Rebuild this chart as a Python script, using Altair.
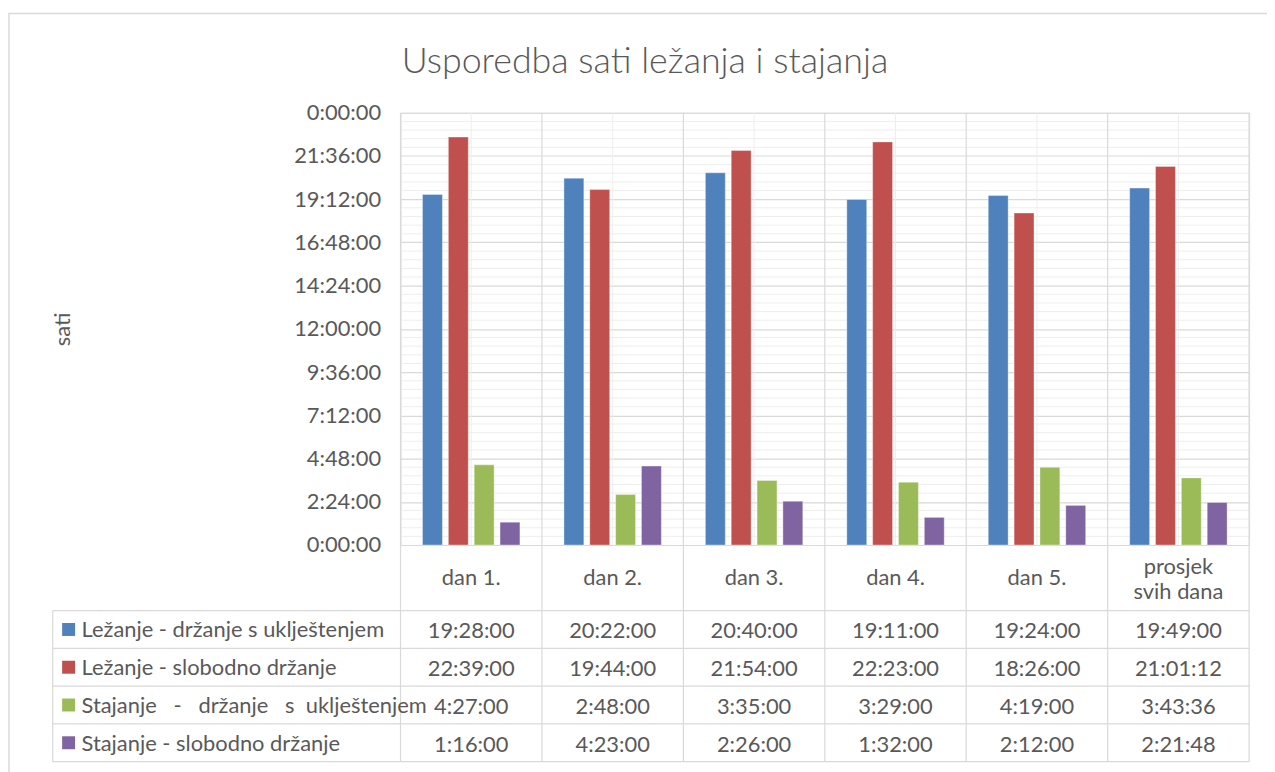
import altair as alt
import pandas as pd

# ---------------- data ----------------
categories = ["dan 1.", "dan 2.", "dan 3.", "dan 4.", "dan 5.", "prosjek\nsvih dana"]
series = [
    "Ležanje - držanje s uklještenjem",
    "Ležanje - slobodno držanje",
    "Stajanje - držanje s uklještenjem",
    "Stajanje - slobodno držanje",
]
NB = "\u00a0"
series_labels = [
    "Ležanje - držanje s uklještenjem",
    "Ležanje - slobodno držanje",
    f"Stajanje{NB}{NB}{NB}-{NB}{NB}{NB}držanje{NB}{NB}{NB}s{NB}{NB}uklještenjem",
    "Stajanje - slobodno držanje",
]
colors = ["#4f81bd", "#c0504d", "#9bbb59", "#8064a2"]

lezanje_ukljestenje = ["19:28:00", "20:22:00", "20:40:00", "19:11:00", "19:24:00", "19:49:00"]
lezanje_slobodno = ["22:39:00", "19:44:00", "21:54:00", "22:23:00", "18:26:00", "21:01:12"]
stajanje_ukljestenje = ["4:27:00", "2:48:00", "3:35:00", "3:29:00", "4:19:00", "3:43:36"]
stajanje_slobodno = ["1:16:00", "4:23:00", "2:26:00", "1:32:00", "2:12:00", "2:21:48"]
values_by_series = [lezanje_ukljestenje, lezanje_slobodno, stajanje_ukljestenje, stajanje_slobodno]

y_ticks = [0, 2.4, 4.8, 7.2, 9.6, 12, 14.4, 16.8, 19.2, 21.6, 24]
y_minor = [i * 0.48 for i in range(51) if i % 5 != 0]

title_text = "Usporedba sati ležanja i stajanja"
y_title = "sati"


def to_hours(s):
    h, m, sec = (int(p) for p in s.split(":"))
    return h + m / 60 + sec / 3600


rows = []
for name, vals in zip(series, values_by_series):
    for cat, v in zip(categories, vals):
        rows.append({"dan": cat, "serija": name, "sati": to_hours(v), "tekst": v})
df = pd.DataFrame(rows)
df_series = pd.DataFrame({"serija": series, "oznaka": series_labels})
df_cats = pd.DataFrame({"dan": categories})
df_last_cat = pd.DataFrame({"dan": categories[-1:]})
df_last_series = pd.DataFrame({"serija": series[-1:]})
df_minor = pd.DataFrame({"sati": y_minor})
df_one = pd.DataFrame({"k": [0]})
df_title = pd.DataFrame({"naslov": [title_text]})

# ---------------- layout / style ----------------
W, H = 854, 435
TABLE_TOP, TABLE_BOTTOM = 501, 653
TABLE_LEFT = -350
FONT = "Lato"
TXT = "#595959"
GRID = "#d9d9d9"
GRID_MINOR = "#eeeeee"
FS = 22
FS_TABLE = 22

x_scale = alt.Scale(domain=categories, paddingInner=0, paddingOuter=0)
X = alt.X("dan:N", scale=x_scale, axis=None, sort=categories)

y_scale = alt.Scale(domain=[0, 24], nice=False, zero=True)
row_scale = alt.Scale(domain=series, range=[TABLE_TOP, TABLE_BOTTOM], paddingInner=0, paddingOuter=0)
color_scale = alt.Scale(domain=series, range=colors)

# outer frame
frame = alt.Chart(df_one).mark_rect(fill="transparent", stroke=GRID, strokeWidth=1.5).encode(
    x=alt.value(-394), x2=alt.value(1000), y=alt.value(-100), y2=alt.value(800)
)

# title
title = alt.Chart(df_title).mark_text(
    font=FONT, fontSize=36, fontWeight=300, color=TXT, align="center", baseline="middle"
).encode(x=alt.value(246), y=alt.value(-51), text="naslov:N")

# minor horizontal gridlines
minor_h = alt.Chart(df_minor).mark_rule(color=GRID_MINOR, strokeWidth=1).encode(
    y=alt.Y("sati:Q", scale=y_scale, axis=None)
)

# vertical lines at category boundaries (through the table)
v_major = alt.Chart(df_cats).mark_rule(color=GRID, strokeWidth=1.2).encode(
    x=alt.X("dan:N", scale=x_scale, axis=None, sort=categories, bandPosition=0),
    y=alt.value(0), y2=alt.value(TABLE_BOTTOM),
)
v_right = alt.Chart(df_last_cat).mark_rule(color=GRID, strokeWidth=1.2).encode(
    x=alt.X("dan:N", scale=x_scale, axis=None, sort=categories, bandPosition=1),
    y=alt.value(0), y2=alt.value(TABLE_BOTTOM),
)
v_minor = alt.Chart(df_cats).mark_rule(color=GRID_MINOR, strokeWidth=1).encode(
    x=alt.X("dan:N", scale=x_scale, axis=None, sort=categories, bandPosition=0.5),
    y=alt.value(0), y2=alt.value(H),
)

# bars
bars = alt.Chart(df).mark_bar(stroke="white", strokeWidth=0.6, strokeOpacity=0.6).encode(
    x=X,
    xOffset=alt.XOffset("serija:N", sort=series,
                        scale=alt.Scale(domain=series, paddingInner=0.23, paddingOuter=0.852)),
    y=alt.Y(
        "sati:Q", scale=y_scale,
        axis=alt.Axis(
            values=y_ticks, grid=True, gridColor=GRID, gridWidth=1.2,
            domain=False, ticks=False, labelPadding=20,
            labelFont=FONT, labelFontSize=FS, labelColor=TXT,
            labelExpr="floor(round(datum.value*60)/60) % 24 + ':' + "
                      "(round(datum.value*60) % 60 < 10 ? '0' : '') + "
                      "(round(datum.value*60) % 60) + ':00'",
            title=y_title, titleFont=FONT, titleFontSize=FS, titleFontWeight="normal",
            titleColor=TXT, titleX=-340, titleY=H / 2, titleAngle=270,
            titleBaseline="middle", titleAlign="center",
        ),
    ),
    color=alt.Color("serija:N", scale=color_scale, legend=None),
)

# category header row (single- and two-line labels, each block centred in the row)
hdr_single = alt.Chart(df_cats).transform_filter(
    "indexof(datum.dan, '\\n') < 0"
).mark_text(font=FONT, fontSize=FS_TABLE, color=TXT, baseline="middle").encode(
    x=X, y=alt.value(H + 33), text="dan:N"
)
hdr_multi = alt.Chart(df_cats).transform_filter(
    "indexof(datum.dan, '\\n') >= 0"
).transform_calculate(
    linije="split(datum.dan, '\\n')"
).mark_text(font=FONT, fontSize=FS_TABLE, color=TXT, baseline="middle", lineHeight=25, dy=-11).encode(
    x=X, y=alt.value(H + 33), text="linije:N"
)

# table horizontal lines
t_h = alt.Chart(df_series).mark_rule(color=GRID, strokeWidth=1.2).encode(
    y=alt.Y("serija:N", scale=row_scale, axis=None, sort=series, bandPosition=0),
    x=alt.value(TABLE_LEFT), x2=alt.value(W),
)
t_h_bottom = alt.Chart(df_last_series).mark_rule(color=GRID, strokeWidth=1.2).encode(
    y=alt.Y("serija:N", scale=row_scale, axis=None, sort=series, bandPosition=1),
    x=alt.value(TABLE_LEFT), x2=alt.value(W),
)
t_left = alt.Chart(df_one).mark_rule(color=GRID, strokeWidth=1.2).encode(
    x=alt.value(TABLE_LEFT), y=alt.value(TABLE_TOP), y2=alt.value(TABLE_BOTTOM)
)

# table values
t_text = alt.Chart(df).mark_text(font=FONT, fontSize=FS_TABLE, color=TXT, baseline="middle", dy=2).encode(
    x=X,
    y=alt.Y("serija:N", scale=row_scale, axis=None, sort=series),
    text="tekst:N",
)

# table row headers
t_labels = alt.Chart(df_series).mark_text(
    font=FONT, fontSize=FS_TABLE, color=TXT, baseline="middle", align="left", dy=1
).encode(
    x=alt.value(-321),
    y=alt.Y("serija:N", scale=row_scale, axis=None, sort=series),
    text="oznaka:N",
)
t_keys = alt.Chart(df_series).mark_square(size=170, opacity=1).encode(
    x=alt.value(-334),
    y=alt.Y("serija:N", scale=row_scale, axis=None, sort=series),
    color=alt.Color("serija:N", scale=color_scale, legend=None),
)

chart = alt.layer(
    frame, title, minor_h, v_minor, v_major, v_right, bars, hdr_single, hdr_multi,
    t_h, t_h_bottom, t_left, t_text, t_labels, t_keys,
).resolve_scale(y="independent").properties(
    width=W, height=H,
    padding={"left": 395, "top": 103, "right": 18, "bottom": 226},
    autosize=alt.AutoSizeParams(type="none"),
).configure_view(stroke=None).configure(background="white")

chart.save("out.html", embed_options={"renderer": "svg", "actions": False})
